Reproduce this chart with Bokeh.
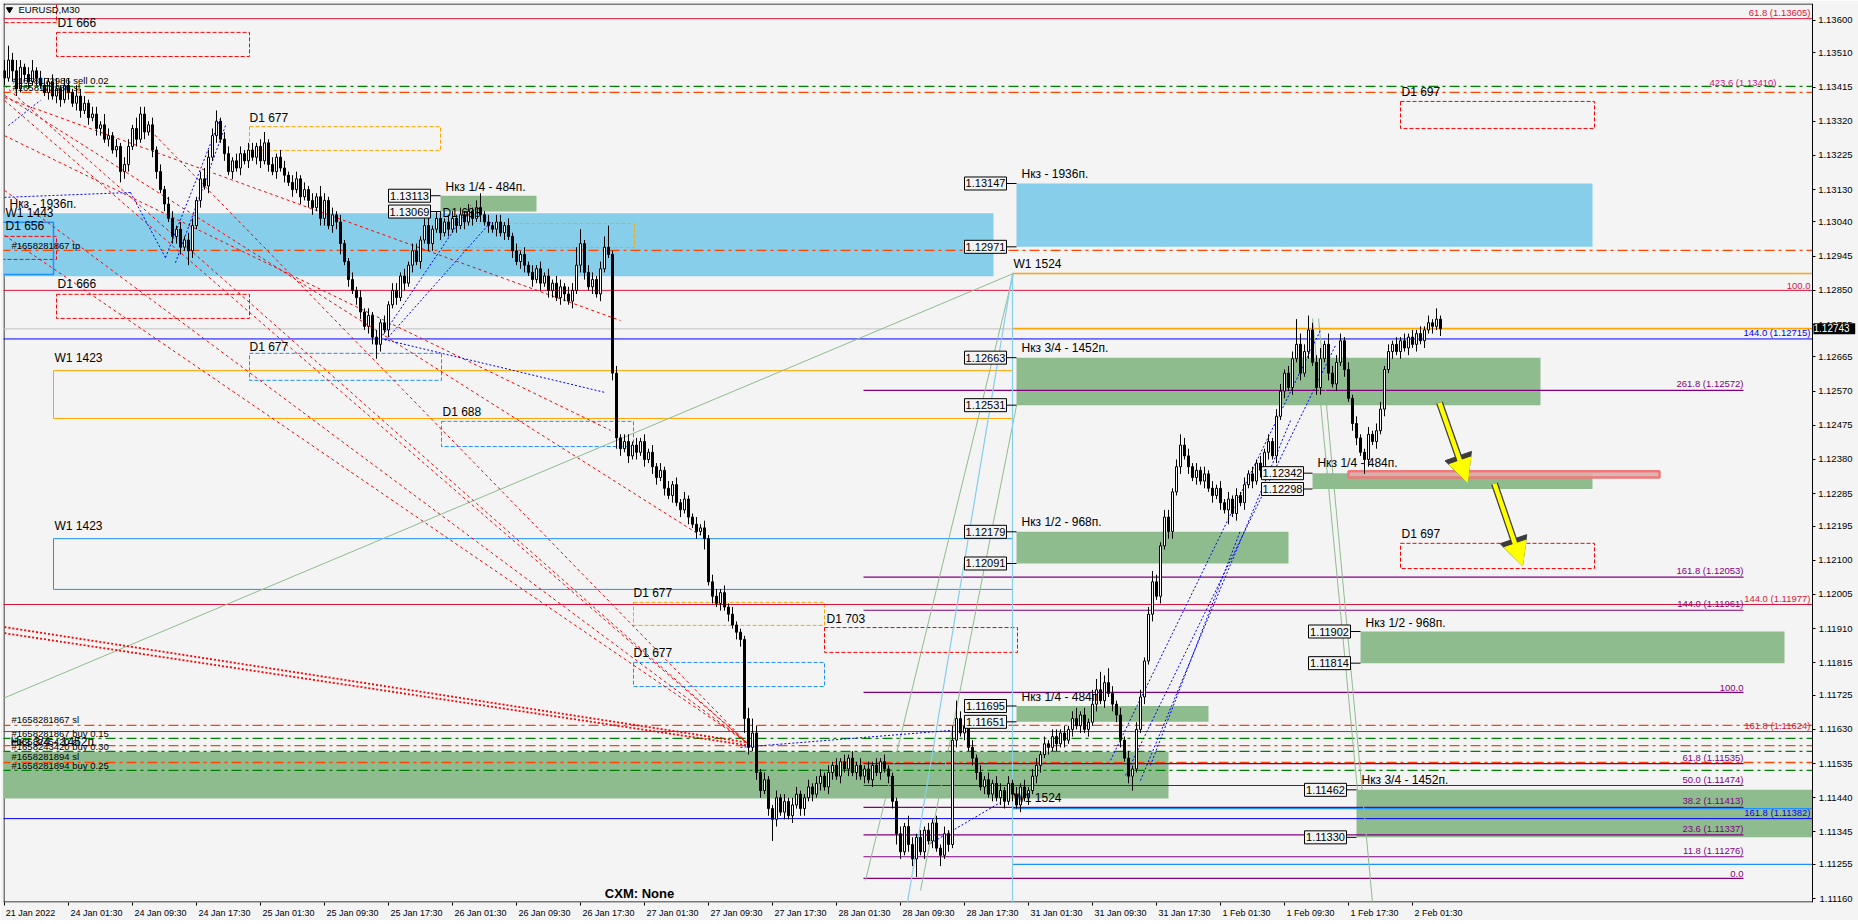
from bokeh.plotting import figure
from bokeh.models import (Range1d, FixedTicker, PrintfTickFormatter, Label, LinearAxis,
                          Arrow, NormalHead, ColumnDataSource, CustomJSTickFormatter)
from bokeh.core.properties import value
from bokeh.embed import file_html
from bokeh.resources import INLINE

FONT = "Liberation Sans"

# ---------------- candle data: EURUSD M30 (bar index 0 = 21 Jan 17:30) ----------------
first_open = 1.1346
closes = [
    1.1344, 1.1349, 1.1346, 1.1341, 1.1347, 1.1345, 1.1343, 1.1346, 1.1344, 1.1342,
    1.1340, 1.1343, 1.1339, 1.1341, 1.1338, 1.1342, 1.1340, 1.1337,
    1.1339, 1.1335, 1.1337, 1.1333, 1.1334,
    1.1330, 1.1331, 1.1327, 1.1328, 1.1324, 1.1325,
    1.1318, 1.1320,
    1.1325, 1.1330, 1.1327, 1.1334, 1.1329, 1.1331,
    1.1324, 1.1318, 1.1313, 1.1309,
    1.1305, 1.1300, 1.1302, 1.1297, 1.1299, 1.1296,
    1.1303, 1.1310, 1.1316, 1.1314, 1.1322, 1.1328, 1.1332,
    1.1327, 1.1323, 1.1318, 1.1321, 1.1319, 1.1323, 1.1321, 1.1324, 1.1322,
    1.1325, 1.1321, 1.1326, 1.1320, 1.1318, 1.1322, 1.1319, 1.1317,
    1.1315, 1.1313, 1.1316, 1.1311, 1.1313, 1.1310, 1.1308, 1.1311,
    1.1305, 1.1310, 1.1303, 1.1306, 1.1304, 1.1298,
    1.1293, 1.1288, 1.1285, 1.1283,
    1.1279, 1.1275, 1.1278, 1.1272, 1.1270, 1.1276, 1.1274,
    1.1281, 1.1285, 1.1283, 1.1289, 1.1287, 1.1292, 1.1296, 1.1293, 1.1299, 1.1303, 1.1298, 1.1302, 1.1305,
    1.1301, 1.1304, 1.1302, 1.1305, 1.1303, 1.1306, 1.1304, 1.1307, 1.1305, 1.1308, 1.1306, 1.1304, 1.1303,
    1.1302, 1.1304, 1.1301, 1.1303, 1.1300,
    1.1296, 1.1293, 1.1295, 1.1292, 1.1290,
    1.1288, 1.1291, 1.1287, 1.1289, 1.1285, 1.1287, 1.1283, 1.1286, 1.1284, 1.1282,
    1.1285, 1.1292, 1.1298, 1.1290, 1.1286, 1.1288, 1.1284, 1.1291, 1.1297,
    1.1295, 1.1262, 1.1244,
    1.1241, 1.1243, 1.1239, 1.1242, 1.1240, 1.1243, 1.1238, 1.1240,
    1.1236, 1.1233, 1.1235, 1.1230, 1.1228, 1.1231, 1.1226, 1.1224, 1.1227, 1.1222,
    1.1220, 1.1218, 1.1219, 1.1216,
    1.1204, 1.1200,
    1.1198, 1.1201, 1.1197, 1.1195,
    1.1192, 1.1190, 1.1188,
    1.1166,
    1.1158, 1.1162, 1.1151, 1.1146, 1.1149, 1.1141, 1.1138, 1.1144, 1.1140,
    1.1143, 1.1139, 1.1142, 1.1145, 1.1141, 1.1144, 1.1147, 1.1145, 1.1148, 1.1150, 1.1147, 1.1151,
    1.1153, 1.1150, 1.1154, 1.1152, 1.1155, 1.1151, 1.1153, 1.1150,
    1.1152, 1.1149, 1.1153, 1.1151, 1.1154, 1.1152, 1.1150, 1.1143,
    1.1134, 1.1129, 1.1136, 1.1131, 1.1127, 1.1133, 1.1129, 1.1135, 1.1132, 1.1137, 1.1130, 1.1128, 1.1134, 1.1131,
    1.1160, 1.1166,
    1.1162, 1.1164, 1.1158, 1.1155, 1.1151, 1.1147,
    1.1149, 1.1145, 1.1148, 1.1144, 1.1146, 1.1143, 1.1148, 1.1145, 1.1142, 1.1147, 1.1144, 1.1146,
    1.1150, 1.1153, 1.1156, 1.1159, 1.1158,
    1.1161, 1.1159, 1.1162, 1.1160, 1.1163,
    1.1166, 1.1164, 1.1167, 1.1163, 1.1165, 1.1170,
    1.1174, 1.1171, 1.1176, 1.1173, 1.1170, 1.1167,
    1.1160, 1.1155, 1.1150, 1.1152,
    1.1163, 1.1172, 1.1182, 1.1195, 1.1204, 1.1200, 1.1214, 1.1222, 1.1218, 1.1229, 1.1236, 1.1242, 1.1239,
    1.1236, 1.1233, 1.1235, 1.1232, 1.1234, 1.1230,
    1.1228, 1.1230, 1.1226, 1.1224, 1.1227, 1.1223,
    1.1228, 1.1226, 1.1231, 1.1234, 1.1232, 1.1237, 1.1235, 1.1240, 1.1243, 1.1239,
    1.1250, 1.1257, 1.1262, 1.1258, 1.1266,
    1.1270, 1.1262, 1.1268, 1.1274, 1.1265, 1.1258, 1.1266,
    1.1270, 1.1262, 1.1259, 1.1265, 1.1271, 1.1263,
    1.1255, 1.1248, 1.1244,
    1.1240, 1.1238,
    1.1245, 1.1243, 1.1246, 1.1252,
    1.1263, 1.1268, 1.1270, 1.1268, 1.1271, 1.1269, 1.1272,
    1.1270, 1.1273, 1.1271, 1.1274,
    1.1276, 1.1275, 1.1277, 1.12743,
]
upper_wick_pips = [
    3, 4, 2, 3, 2, 1, 2, 3, 1, 2, 2, 1, 2, 3, 1, 2, 2, 1, 3, 2,
    2, 1, 2, 2, 1, 3, 2, 1, 2, 1, 2, 2, 1, 3, 2, 2, 1, 2, 1, 2,
    1, 2, 2, 1, 2, 1, 2, 2, 1, 2, 3, 2, 2, 3, 1, 2, 2, 1, 2, 2,
    1, 2, 2, 1, 2, 3, 1, 2, 1, 2, 2, 1, 2, 2, 1, 2, 1, 2, 1, 3,
    2, 1, 2, 1, 2, 1, 1, 2, 1, 2, 1, 2, 1, 2, 1, 2, 1, 2, 2, 1,
    2, 1, 2, 2, 1, 2, 3, 1, 2, 2, 1, 2, 2, 1, 2, 1, 2, 1, 2, 4,
    1, 2, 1, 2, 2, 1, 2, 1, 2, 1, 2, 1, 2, 1, 2, 1, 2, 1, 2, 2,
    1, 2, 2, 5, 4, 1, 2, 2, 1, 2, 3, 6, 1, 2, 1, 2, 2, 1, 2, 1,
    2, 1, 2, 1, 2, 1, 2, 1, 2, 1, 2, 1, 1, 2, 1, 2, 1, 2, 2, 1,
    2, 1, 2, 1, 1, 1, 3, 4, 2, 1, 2, 1, 1, 2, 1, 2, 1, 2, 2, 1,
    1, 2, 1, 2, 2, 1, 2, 1, 2, 1, 2, 1, 2, 1, 2, 1, 2, 1, 2, 1,
    2, 1, 1, 1, 2, 1, 3, 2, 1, 2, 1, 2, 1, 2, 1, 2, 1, 4, 5, 2,
    2, 3, 2, 1, 2, 1, 2, 1, 2, 2, 1, 2, 1, 2, 1, 2, 1, 2, 2, 1,
    2, 1, 2, 2, 1, 2, 1, 2, 3, 1, 2, 1, 4, 3, 5, 2, 4, 2, 1, 2,
    1, 2, 1, 2, 2, 1, 2, 3, 2, 1, 2, 2, 1, 2, 3, 2, 2, 1, 2, 1,
    2, 1, 2, 1, 2, 1, 2, 1, 2, 1, 2, 1, 2, 1, 2, 1, 2, 1, 2, 2,
    1, 2, 2, 7, 3, 2, 4, 2, 2, 3, 1, 3, 2, 2, 2, 1, 2, 1, 2, 1,
    1, 2, 1, 2, 2, 1, 2, 1, 2, 1, 2, 1, 2, 1, 2, 1, 2, 1, 3, 1,
]
lower_wick_pips = [
    2, 1, 3, 2, 1, 2, 2, 1, 2, 1, 1, 2, 1, 2, 2, 1, 2, 1, 2, 2,
    1, 2, 1, 2, 2, 1, 2, 1, 2, 3, 2, 2, 1, 2, 1, 2, 1, 2, 2, 1,
    2, 1, 2, 2, 2, 1, 4, 2, 1, 2, 1, 2, 1, 2, 1, 2, 1, 2, 1, 2,
    1, 2, 1, 2, 2, 1, 2, 1, 2, 1, 2, 1, 2, 1, 2, 1, 2, 2, 1, 2,
    2, 1, 2, 2, 3, 1, 2, 1, 2, 2, 1, 2, 2, 4, 2, 1, 2, 1, 2, 1,
    2, 1, 2, 1, 2, 1, 2, 2, 1, 2, 1, 2, 1, 2, 1, 2, 1, 2, 1, 2,
    1, 2, 1, 2, 1, 2, 1, 2, 1, 2, 2, 1, 2, 1, 2, 1, 2, 2, 1, 2,
    2, 1, 2, 1, 2, 2, 1, 2, 1, 2, 1, 1, 2, 3, 2, 1, 2, 1, 2, 1,
    2, 1, 2, 2, 1, 2, 1, 2, 1, 2, 1, 2, 1, 2, 1, 3, 1, 2, 1, 2,
    1, 2, 1, 2, 2, 4, 2, 1, 2, 2, 1, 2, 6, 2, 1, 2, 1, 2, 1, 2,
    2, 1, 2, 1, 2, 1, 2, 2, 1, 2, 1, 2, 1, 2, 1, 2, 1, 2, 1, 2,
    1, 2, 2, 3, 2, 1, 2, 2, 5, 1, 2, 1, 2, 1, 3, 1, 2, 1, 2, 1,
    2, 1, 2, 2, 1, 2, 1, 2, 1, 2, 2, 1, 2, 1, 2, 1, 2, 1, 2, 2,
    1, 2, 1, 2, 1, 2, 1, 2, 1, 2, 1, 2, 1, 2, 1, 2, 1, 2, 2, 2,
    1, 2, 4, 1, 1, 2, 1, 2, 1, 2, 1, 2, 2, 1, 2, 1, 2, 1, 2, 1,
    2, 1, 2, 1, 2, 1, 4, 1, 2, 1, 2, 1, 2, 1, 2, 1, 2, 1, 2, 1,
    2, 1, 2, 1, 2, 1, 2, 1, 2, 2, 1, 2, 1, 2, 1, 2, 1, 2, 2, 1,
    4, 2, 1, 2, 1, 2, 1, 2, 1, 2, 1, 2, 1, 2, 1, 2, 1, 2, 1, 2,
]
pip = 0.0001

# ---------------- axes ----------------
x_tick_bars = [0, 16, 32, 48, 64, 80, 96, 112, 128, 144, 160, 176, 192, 208, 224, 240,
               256, 272, 288, 304, 320, 336, 352]
x_tick_labels = ["21 Jan 2022", "24 Jan 01:30", "24 Jan 09:30", "24 Jan 17:30", "25 Jan 01:30",
                 "25 Jan 09:30", "25 Jan 17:30", "26 Jan 01:30", "26 Jan 09:30", "26 Jan 17:30",
                 "27 Jan 01:30", "27 Jan 09:30", "27 Jan 17:30", "28 Jan 01:30", "28 Jan 09:30",
                 "28 Jan 17:30", "31 Jan 01:30", "31 Jan 09:30", "31 Jan 17:30", "1 Feb 01:30",
                 "1 Feb 09:30", "1 Feb 17:30", "2 Feb 01:30"]
y_ticks = [1.13600, 1.13510, 1.13415, 1.13320, 1.13225, 1.13130, 1.13040, 1.12945, 1.12850,
           1.12755, 1.12665, 1.12570, 1.12475, 1.12380, 1.12285, 1.12195, 1.12100, 1.12005,
           1.11910, 1.11815, 1.11725, 1.11630, 1.11535, 1.11440, 1.11345, 1.11255, 1.11160]
bid_price = 1.12743
scale_bar = 452.0          # bar position of the price scale (chart shift area ends here)

# ---------------- level lines ----------------
crimson_levels = [1.13605, 1.12850, 1.11977, 1.11624]
crimson_texts = ["61.8 (1.13605)", "100.0", "144.0 (1.11977)", "161.8 (1.11624)"]
blue_levels = [1.12715, 1.11382]
blue_texts = ["144.0 (1.12715)", "161.8 (1.11382)"]
purple_levels = [1.12572, 1.12053, 1.11961, 1.11733, 1.11535, 1.11474, 1.11413, 1.11337, 1.11276, 1.11216]
purple_texts = ["261.8 (1.12572)", "161.8 (1.12053)", "144.0 (1.11961)", "100.0", "61.8 (1.11535)",
                "50.0 (1.11474)", "38.2 (1.11413)", "23.6 (1.11337)", "11.8 (1.11276)", "0.0"]
purple_from, purple_to = 214.75, 434.75
upper_fib_level, upper_fib_text, upper_fib_to = 1.13410, "423.6 (1.13410)", 443.0
green_order_levels = [1.13417, 1.11605, 1.11569, 1.11516]
orangered_order_levels = [1.13400, 1.12961, 1.11641, 1.11585, 1.11538]

# W1 1524 zone edges (open to the right)
w1_1524_from = 252.0
w1_1524_orange = [1.12897, 1.12744]
w1_1524_blue = [1.11410, 1.11255]

# ---------------- zones ----------------
sky_left = [-3, 253]
sky_right = [247.25, 397]
sky_top = [1.13064, 1.13147]
sky_bottom = [1.12889, 1.12971]

green_left = [109, 253, 253, 253, -3, 327, 339, 338]
green_right = [133, 384, 321, 301, 291, 397, 445, 452]
green_top = [1.13113, 1.12663, 1.12179, 1.11695, 1.11568, 1.12342, 1.11902, 1.11462]
green_bottom = [1.13069, 1.12531, 1.12091, 1.11651, 1.11438, 1.12298, 1.11814, 1.11330]

d1_left = [13, 61.25, 13, 61.25, 109.25, 109.25, 157.25, 157.25, 205, 349, 349, -3, -3]
d1_right = [61.25, 109, 61.25, 109.25, 157.25, 157.5, 205, 205, 253.25, 397.5, 397.5, 13, 13]
d1_top = [1.13567, 1.13305, 1.12839, 1.12675, 1.12486, 1.13036, 1.11983, 1.11816, 1.11913,
          1.13375, 1.12147, 1.13700, 1.13000]
d1_bottom = [1.13500, 1.13239, 1.12772, 1.12600, 1.12416, 1.12969, 1.11919, 1.11749, 1.11844,
             1.13300, 1.12077, 1.13594, 1.12936]
d1_colors = ["#ff0000", "#ffa500", "#ff0000", "#1e90ff", "#1e90ff", "#ffa500", "#ffa500",
             "#1e90ff", "#ff0000", "#ff0000", "#ff0000", "#ff0000", "#ff0000"]

w1_left = [12.25, 12.25]
w1_right = [252, 252]
w1_top = [1.12627, 1.12160]
w1_bottom = [1.12494, 1.12019]
w1_colors = ["#ffa500", "#1e90ff"]

d1_656 = dict(left=[-3], right=[12.25], top=[1.13039], bottom=[1.12894])
target_zone = dict(left=[336], right=[413.75], top=[1.12347], bottom=[1.12330])

# ---------------- trend / fan lines (bar, price) ----------------
red_x0 = [0, 0, 0, 0, 0, 0, 0, 36.5]
red_y0 = [1.13419, 1.13378, 1.13128, 1.13003, 1.13392, 1.13386, 1.13280, 1.13294]
red_x1 = [185.5, 185.5, 185.5, 185.5, 174, 154, 151.5, 185.5]
red_y1 = [1.11594, 1.11594, 1.11594, 1.11594, 1.12169, 1.12766, 1.12461, 1.11594]
bold_red_x0 = [-1, -1]
bold_red_y0 = [1.11916, 1.11899]
bold_red_x1 = [185.5, 185.5]
bold_red_y1 = [1.11594, 1.11586]

blue_x0 = [1, -1, 31.5, 40.25, 42.75, 94, 94, 95.25, 184, 231.5, 276.5, 280.25, 284, 286.5]
blue_y0 = [1.13308, 1.13108, 1.13122, 1.12941, 1.12927, 1.12716, 1.12716, 1.12711, 1.11580,
           1.11313, 1.11544, 1.11502, 1.11488, 1.11530]
blue_x1 = [9, 31.5, 40.25, 54, 55.25, 116.5, 150.25, 121.5, 236.5, 249, 329, 332.75, 321.5, 309]
blue_y1 = [1.13378, 1.13122, 1.12941, 1.13328, 1.13308, 1.13086, 1.12566, 1.13039, 1.11627,
           1.11427, 1.12739, 1.12697, 1.12488, 1.12183]

green_x0 = [-1, 215.25, 229, 327, 328.5]
green_y0 = [1.11713, 1.11210, 1.11182, 1.12772, 1.12772]
green_x1 = [252.25, 252.25, 253, 338.25, 342]
green_y1 = [1.12897, 1.12897, 1.12530, 1.11460, 1.11149]

sky_x0 = [252, 225.75]
sky_y0 = [1.12897, 1.11149]
sky_x1 = [252, 252]
sky_y1 = [1.11100, 1.12897]

# ---------------- price tags on zones ----------------
pbox_price = [1.13113, 1.13069, 1.13147, 1.12971, 1.12663, 1.12531, 1.12179, 1.12091, 1.11695,
              1.11651, 1.12342, 1.12298, 1.11902, 1.11814, 1.11462, 1.11330]
pbox_text = ["%.5f" % v for v in pbox_price]
pbox_bar = [101.25] * 2 + [245.25] * 8 + [319.5] * 2 + [331.25] * 2 + [330.25] * 2
pbox_zone = [109] * 2 + [253] * 8 + [327] * 2 + [339] * 2 + [338] * 2

# ---------------- annotation texts ----------------
note_text = ["D1 666", "D1 677", "D1 666", "D1 677", "D1 688", "D1 688", "D1 677", "D1 677", "D1 703",
             "D1 697", "D1 697", "W1 1443", "D1 656", "Нкз - 1936п.", "W1 1423", "W1 1423",
             "W1 1524", "W1 1524", "Нкз 1/4 - 484п.", "Нкз - 1936п.", "Нкз 3/4 - 1452п.",
             "Нкз 1/2 - 968п.", "Нкз 1/4 - 484п.", "Нкз 1/4 - 484п.", "Нкз 1/2 - 968п.",
             "Нкз 3/4 - 1452п.", "Нкз 3/4 - 1452п."]
note_x = [13.25, 61.25, 13.25, 61.25, 109.5, 109.5, 157.25, 157.25, 205.5, 349.25, 349.25, 0.25, 0.25,
          1.25, 12.5, 12.5, 252.25, 252.25, 110.25, 254.25, 254.25, 254.25, 254.25, 328.25, 340.25,
          339.25, 1.5]
note_y = [1.13592, 1.13330, 1.12869, 1.12694, 1.12513, 1.13064, 1.12010, 1.11843, 1.11938, 1.13400,
          1.12174, 1.13064, 1.13028, 1.13091, 1.12661, 1.12194, 1.12922, 1.11438, 1.13136, 1.13172,
          1.12689, 1.12205, 1.11719, 1.12369, 1.11927, 1.11488, 1.11594]

order_text = ["#1658172986 sell 0.02", "#1658172986 sl", "#1658281867 tp", "#1658281867 sl",
              "#1658281867 buy 0.15", "#1658245420 sl", "#1658243420 buy 0.30", "#1658281894 sl",
              "#1658281894 buy 0.25"]
order_x = [2, 2, 1.75, 1.75, 1.75, 1.75, 1.75, 1.75, 1.75]
order_y = [1.13433, 1.13414, 1.12975, 1.11658, 1.11619, 1.11596, 1.11583, 1.11555, 1.11530]

arrow_x0 = [358.75, 372.5]
arrow_y0 = [1.12538, 1.12313]
arrow_x1 = [365.75, 379.5]
arrow_y1 = [1.12316, 1.12085]

symbol_title = "EURUSD,M30"
footer_text = "CXM: None"

# ======================= build figure =======================
n = min(len(closes), len(upper_wick_pips), len(lower_wick_pips))
closes = closes[:n]
opens = [first_open] + closes[:-1]
bars = list(range(n))
body_top = [max(o, c) for o, c in zip(opens, closes)]
body_bot = [min(o, c) for o, c in zip(opens, closes)]
highs = [t + u * pip for t, u in zip(body_top, upper_wick_pips)]
lows = [b - d * pip for b, d in zip(body_bot, lower_wick_pips)]
fills = ["white" if c >= o else "black" for o, c in zip(opens, closes)]

BG = "#f4f4f4"
X_LO, X_HI = -0.25, 463.5
Y_LO, Y_HI = 1.111489, 1.136472
p = figure(frame_width=1855, frame_height=899,
           x_range=Range1d(X_LO, X_HI), y_range=Range1d(Y_LO, Y_HI),
           output_backend="svg", toolbar_location=None, y_axis_location=None,
           min_border_left=3, min_border_top=3, min_border_right=0, min_border_bottom=0,
           background_fill_color=BG, border_fill_color=BG, outline_line_color=None)
p.grid.visible = False

# x axis (time)
label_centers = [b + (6.5 if len(t) <= 11 else 7.0) for b, t in zip(x_tick_bars, x_tick_labels)]
p.xaxis.ticker = FixedTicker(ticks=label_centers, minor_ticks=x_tick_bars)
p.xaxis.formatter = CustomJSTickFormatter(
    args=dict(pos=label_centers, labs=x_tick_labels),
    code="const i = pos.findIndex(v => Math.abs(v - tick) < 1e-6); return i >= 0 ? labs[i] : '';")
p.xaxis.major_tick_line_color = None
p.xaxis.major_tick_out = 3
p.xaxis.major_tick_in = 0
p.xaxis.minor_tick_line_color = "black"
p.xaxis.minor_tick_out = 3
p.xaxis.minor_tick_in = 0
p.xaxis.major_label_standoff = 2
p.xaxis.major_label_text_font = FONT
p.xaxis.major_label_text_font_size = "9px"
p.xaxis.major_label_text_color = "black"
p.xaxis.axis_line_color = None

# price scale: a real axis drawn at the chart's right edge (bar position scale_bar)
yax = LinearAxis(fixed_location=scale_bar, ticker=FixedTicker(ticks=y_ticks),
                 formatter=PrintfTickFormatter(format="%.5f"),
                 major_tick_in=3, major_tick_out=0, minor_tick_line_color=None,
                 major_label_standoff=-40, major_label_text_font=FONT,
                 major_label_text_font_size="9.5px", major_label_text_color="black",
                 axis_line_color="black")
p.add_layout(yax, "left")

# chart frame edges (left, top, bottom up to the price scale)
half_px_x = 0.125
half_px_y = 0.5 / 35984
p.segment(x0=[X_LO + half_px_x, X_LO, X_LO], y0=[Y_LO, Y_HI - half_px_y, Y_LO + half_px_y],
          x1=[X_LO + half_px_x, scale_bar, scale_bar], y1=[Y_HI, Y_HI - half_px_y, Y_LO + half_px_y],
          line_color="black", line_width=1)

# zones (background)
p.quad(left=sky_left, right=sky_right, top=sky_top, bottom=sky_bottom,
       fill_color="#87ceeb", line_color=None)
p.quad(left=green_left, right=green_right, top=green_top, bottom=green_bottom,
       fill_color="#8fbc8f", line_color=None)
p.quad(left=target_zone["left"], right=target_zone["right"], top=target_zone["top"],
       bottom=target_zone["bottom"], fill_color="#d8b0b0", fill_alpha=0.9,
       line_color="#f07878", line_width=2.5)
p.quad(left=d1_left, right=d1_right, top=d1_top, bottom=d1_bottom,
       fill_color=None, line_color=d1_colors, line_dash="4 2", line_width=1)
p.quad(left=w1_left, right=w1_right, top=w1_top, bottom=w1_bottom,
       fill_color=None, line_color=w1_colors, line_width=1)
p.quad(left=d1_656["left"], right=d1_656["right"], top=d1_656["top"], bottom=d1_656["bottom"],
       fill_color=None, line_color="#1e90ff", line_width=1.5)


def hlines(levels, x_from, x_to, **kw):
    p.segment(x0=[x_from] * len(levels), y0=levels, x1=[x_to] * len(levels), y1=levels, **kw)


# full width level lines (to the price scale)
hlines(crimson_levels, -1, scale_bar, line_color="#dc143c", line_width=1)
hlines(blue_levels, -1, scale_bar, line_color="#0000ff", line_width=1)
hlines(green_order_levels, -1, scale_bar, line_color="#008000", line_width=1.3, line_dash="10 4 3 4")
hlines(orangered_order_levels, -1, scale_bar, line_color="#ff4500", line_width=1.3, line_dash="10 4 3 4")
hlines([bid_price], -1, scale_bar, line_color="#c0c0c0", line_width=1)

# partial level lines
hlines(purple_levels, purple_from, purple_to, line_color="#800080", line_width=1.2)
hlines(w1_1524_orange, w1_1524_from, scale_bar, line_color="#ffa500", line_width=1.6)
hlines(w1_1524_blue, w1_1524_from, scale_bar, line_color="#1e90ff", line_width=1.3)

# trend lines
p.segment(x0=green_x0, y0=green_y0, x1=green_x1, y1=green_y1, line_color="#8fbc8f", line_width=1)
p.segment(x0=sky_x0, y0=sky_y0, x1=sky_x1, y1=sky_y1, line_color="#87ceeb", line_width=1.2)
p.segment(x0=red_x0, y0=red_y0, x1=red_x1, y1=red_y1, line_color="#ff0000", line_width=1,
          line_dash="3 3")
p.segment(x0=bold_red_x0, y0=bold_red_y0, x1=bold_red_x1, y1=bold_red_y1, line_color="#ff0000",
          line_width=1.8, line_dash="2 2")
p.segment(x0=blue_x0, y0=blue_y0, x1=blue_x1, y1=blue_y1, line_color="#0000ff", line_width=1,
          line_dash="2 2")

# candles
src = ColumnDataSource(dict(x=bars, h=highs, l=lows, top=body_top, bot=body_bot, fill=fills))
p.segment(x0="x", y0="l", x1="x", y1="h", source=src, line_color="black", line_width=1)
p.vbar(x="x", width=0.5, top="top", bottom="bot", fill_color="fill", line_color="black",
       line_width=1, source=src)

# fib labels
p.text(x=[purple_to] * len(purple_levels), y=purple_levels, text=purple_texts,
       text_font=value(FONT), text_font_size="9.5px", text_color="#800080",
       text_align="right", text_baseline="bottom", y_offset=-1)
p.text(x=[upper_fib_to], y=[upper_fib_level], text=[upper_fib_text],
       text_font=value(FONT), text_font_size="9.5px", text_color="#c71585",
       text_align="right", text_baseline="bottom", y_offset=-1)
p.text(x=[scale_bar - 0.5] * len(crimson_levels), y=crimson_levels, text=crimson_texts,
       text_font=value(FONT), text_font_size="9.5px", text_color="#dc143c",
       text_align="right", text_baseline="bottom", y_offset=-1)
p.text(x=[scale_bar - 0.5] * len(blue_levels), y=blue_levels, text=blue_texts,
       text_font=value(FONT), text_font_size="9.5px", text_color="#0000ff",
       text_align="right", text_baseline="bottom", y_offset=-1)

# zone / object notes
p.text(x=note_x, y=note_y, text=note_text, text_font=value(FONT), text_font_size="12px",
       text_color="black", text_align="left", text_baseline="middle")
p.text(x=order_x, y=order_y, text=order_text, text_font=value(FONT), text_font_size="9.5px",
       text_color="black", text_align="left", text_baseline="middle")

# price tags
p.segment(x0=[b + 5.25 for b in pbox_bar], y0=pbox_price, x1=pbox_zone, y1=pbox_price,
          line_color="black", line_width=1)
p.rect(x=pbox_bar, y=pbox_price, width=42, height=13, width_units="screen", height_units="screen",
       fill_color=BG, line_color="black", line_width=1)
p.text(x=pbox_bar, y=pbox_price, text=pbox_text, text_font=value(FONT), text_font_size="11px",
       text_color="black", text_align="center", text_baseline="middle")

# arrows
for x0, y0, x1, y1 in zip(arrow_x0, arrow_y0, arrow_x1, arrow_y1):
    p.add_layout(Arrow(end=NormalHead(size=28, fill_color="#3c3c3c", line_color="#3c3c3c"),
                       x_start=x0, y_start=y0, x_end=x1, y_end=y1,
                       line_color="#3c3c3c", line_width=7))
    p.add_layout(Arrow(end=NormalHead(size=23, fill_color="#ffff00", line_color="#ffff00"),
                       x_start=x0, y_start=y0, x_end=x1, y_end=y1,
                       line_color="#ffff00", line_width=4.5))

# title, footer
p.scatter(x=[1.25], y=[1.136306], marker="inverted_triangle", size=6, color="black")
p.add_layout(Label(x=3.5, y=1.136306, text=symbol_title, text_font=FONT, text_font_size="9.5px",
                   text_color="black", text_baseline="middle"))
p.text(x=[158.75], y=[1.11174], text=[footer_text], text_font=value(FONT), text_font_size="13px",
       text_font_style="bold", text_color="black", text_align="center", text_baseline="middle")

# bid price tag on the price scale
p.add_layout(Label(x=scale_bar + 0.25, y=bid_price, text=" %.5f " % bid_price, text_font=FONT,
                   text_font_size="10px", text_color="white", background_fill_color="black",
                   text_baseline="middle", text_align="left"))

open("out.html", "w").write(file_html(p, INLINE))
